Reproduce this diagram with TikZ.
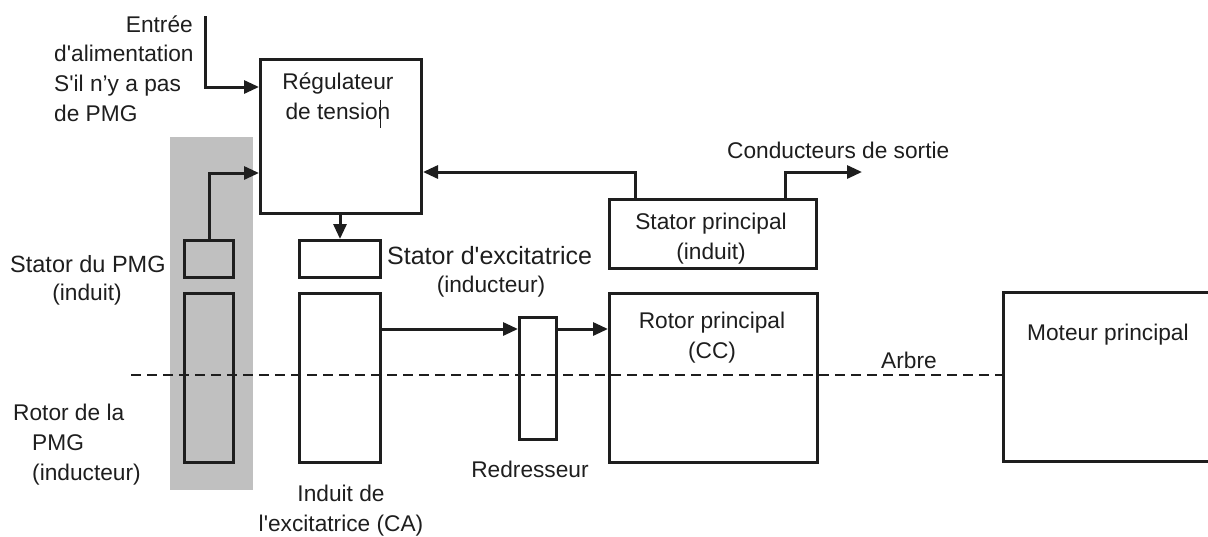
\documentclass[tikz,border=0pt]{standalone}
\usepackage{fontspec}
\setmainfont{Liberation Sans}[Ligatures=TeXOff]
\usetikzlibrary{arrows.meta}
\definecolor{ink}{HTML}{1E1E1E}
\definecolor{band}{HTML}{C0C0C0}
\begin{document}
\begin{tikzpicture}[x=1pt,y=-1pt,
  box/.style={draw=ink, line width=3pt, inner sep=0pt, anchor=north west},
  wire/.style={draw=ink, line width=3pt, -{Triangle[length=15pt,width=13pt]}},
  shaft/.style={draw=ink, line width=2pt, dash pattern=on 10pt off 6pt},
  lbl/.style={inner sep=0pt, font=\fontsize{22.7}{30}\selectfont, text=ink},
  biglbl/.style={lbl, font=\fontsize{25}{30}\selectfont},
]
\useasboundingbox (0,0) rectangle (1208,536);

% PMG zone shading
\fill[band] (170,137) rectangle (253,490);

% blocks
\node[box, minimum width=161pt, minimum height=154pt] (reg) at (259,58) {};
\node[box, minimum width=49pt,  minimum height=37pt]  (pmgs) at (183,239) {};
\node[box, minimum width=49pt,  minimum height=169pt] (pmgr) at (183,292) {};
\node[box, minimum width=81pt,  minimum height=37pt]  (exs) at (298,239) {};
\node[box, minimum width=81pt,  minimum height=169pt] (exa) at (298,292) {};
\node[box, minimum width=37pt,  minimum height=122pt] (red) at (518,316) {};
\node[box, minimum width=208pt, minimum height=169pt] (rotp) at (608,292) {};
\node[box, minimum width=207pt, minimum height=69pt]  (statp) at (608,198) {};
\node[inner sep=0pt, minimum width=205pt, minimum height=169pt, anchor=north west] (mot) at (1003,292) {};
\draw[ink, line width=3pt] (mot.north east) -- (mot.north west) -- (mot.south west) -- (mot.south east);

% shaft
\coordinate (shaftL) at (131,375);
\draw[shaft] (shaftL) -- (shaftL -| mot.west);

% connections
\coordinate (pwr) at (205,16);
\draw[wire] (pwr) |- ([yshift=-29pt]reg.north west);
\draw[wire] (pmgs.north) |- ([yshift=-115pt]reg.north west);
\draw[wire] (reg.south -| exs.north) -- (exs.north);
\coordinate (acout) at ([yshift=-37pt]exa.north east);
\draw[wire] (acout) -- (acout -| red.west);
\draw[wire] (acout -| red.east) -- (acout -| rotp.west);
\draw[wire] ([xshift=27pt]statp.north west) |- ([yshift=-114pt]reg.north east);
\coordinate (out) at (862,172);
\draw[wire] ([xshift=177pt]statp.north west) |- (out);

% labels (multi-line nodes are placed by the baseline of their last line)
\node[lbl, anchor=base east] (t1) at (193,32) {Entrée};
\node[lbl, anchor=base west, align=left] (t2) at (54,121) {d'alimentation\\S'il n’y a pas\\de PMG};
\node[lbl, anchor=base, align=center] (treg) at (338,119) {Régulateur\\de tension};
\draw[ink, line width=1pt] (380,100) -- (380,128);
\node[lbl, anchor=base west, font=\fontsize{23.5}{30}\selectfont] (tpmgs) at (10,272) {Stator du PMG};
\node[lbl, anchor=base] (tpmgs2) at (87,300) {(induit)};
\node[biglbl, anchor=base west] (texs) at (387,264) {Stator d'excitatrice};
\node[lbl, anchor=base] (texs2) at (491,292) {(inducteur)};
\node[lbl, anchor=base west] (tout) at (727,158) {Conducteurs de sortie};
\node[lbl, anchor=base, align=center] (tstat) at (711,259) {Stator principal\\(induit)};
\node[lbl, anchor=base, align=center] (trot) at (712,358) {Rotor principal\\(CC)};
\node[lbl, anchor=base west] (tarb) at (881,368) {Arbre};
\node[lbl, anchor=base west] (tmot) at (1027,340) {Moteur principal};
\node[lbl, anchor=base west] (tpmgr) at (13,420) {Rotor de la};
\node[lbl, anchor=base west, align=left] (tpmgr2) at (32,480) {PMG\\(inducteur)};
\node[lbl, anchor=base, align=center] (texa) at (341,531) {Induit de\\l'excitatrice (CA)};
\node[lbl, anchor=base] (tred) at (530,477) {Redresseur};
\end{tikzpicture}
\end{document}
